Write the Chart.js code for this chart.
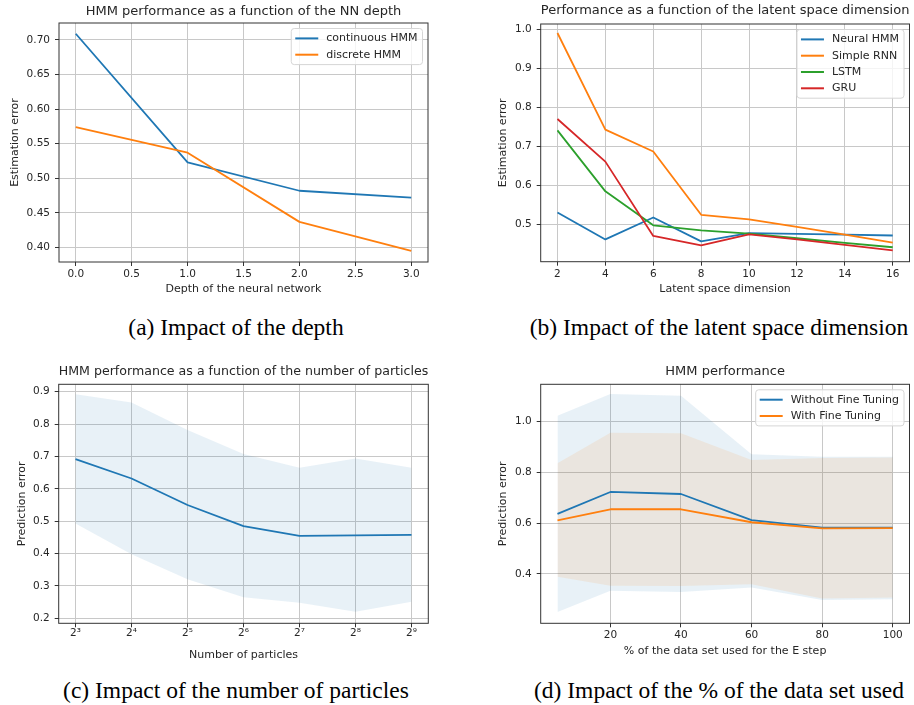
<!DOCTYPE html>
<html>
<head>
<meta charset="utf-8">
<script src="https://cdn.jsdelivr.net/npm/chart.js@4.4.1/dist/chart.umd.min.js"></script>
<style>
  body { margin: 0; background: #fff; width: 914px; height: 705px; position: relative; overflow: hidden; }
  canvas { position: absolute; }
  .caption {
    position: absolute; width: 460px; text-align: center;
    font-family: "Liberation Serif", "Times New Roman", serif;
    font-size: 23.5px; line-height: 28px; color: #000; white-space: nowrap;
  }
</style>
</head>
<body>
<canvas id="chartDepth"></canvas>
<canvas id="chartLatent"></canvas>
<canvas id="chartParticles"></canvas>
<canvas id="chartDataShare"></canvas>
<div class="caption" style="left:6px;top:313px">(a) Impact of the depth</div>
<div class="caption" style="left:489px;top:313px">(b) Impact of the latent space dimension</div>
<div class="caption" style="left:6px;top:676px">(c) Impact of the number of particles</div>
<div class="caption" style="left:489px;top:676px">(d) Impact of the % of the data set used</div>
<script>
// (a) depth of the neural network
const depthValues = [0, 1, 2, 3];
const continuousHmmErr = [0.709, 0.523, 0.482, 0.472];
const discreteHmmErr = [0.574, 0.537, 0.437, 0.395];
const depthTicks = [0, 0.5, 1, 1.5, 2, 2.5, 3];
const depthErrTicks = [0.40, 0.45, 0.50, 0.55, 0.60, 0.65, 0.70];

// (b) latent space dimension
const latentDims = [2, 4, 6, 8, 10, 12, 14, 16];
const neuralHmmErr = [0.531, 0.462, 0.518, 0.457, 0.478, 0.476, 0.474, 0.472];
const simpleRnnErr = [0.990, 0.743, 0.687, 0.525, 0.513, 0.494, 0.474, 0.454];
const lstmErr = [0.741, 0.585, 0.498, 0.485, 0.477, 0.465, 0.453, 0.442];
const gruErr = [0.770, 0.661, 0.471, 0.447, 0.475, 0.462, 0.448, 0.434];
const latentTicks = [2, 4, 6, 8, 10, 12, 14, 16];
const latentErrTicks = [0.5, 0.6, 0.7, 0.8, 0.9, 1.0];

// (c) number of particles
const particleCounts = [8, 16, 32, 64, 128, 256, 512];
const particleTickLabels = ['2³', '2⁴', '2⁵', '2⁶', '2⁷', '2⁸', '2⁹'];
const particleErrMean = [0.692, 0.632, 0.550, 0.485, 0.455, 0.456, 0.458];
const particleErrUpper = [0.892, 0.867, 0.782, 0.708, 0.665, 0.694, 0.665];
const particleErrLower = [0.493, 0.398, 0.321, 0.265, 0.248, 0.220, 0.251];
const particleErrTicks = [0.2, 0.3, 0.4, 0.5, 0.6, 0.7, 0.8, 0.9];

// (d) % of the data set used for the E step
const dataSharePct = [5, 20, 40, 60, 80, 100];
const noFtMean = [0.636, 0.722, 0.714, 0.611, 0.582, 0.582];
const noFtUpper = [1.021, 1.107, 1.100, 0.870, 0.860, 0.860];
const noFtLower = [0.250, 0.334, 0.329, 0.347, 0.298, 0.300];
const ftMean = [0.610, 0.654, 0.654, 0.603, 0.579, 0.580];
const ftUpper = [0.835, 0.955, 0.953, 0.848, 0.855, 0.857];
const ftLower = [0.389, 0.354, 0.353, 0.359, 0.303, 0.307];
const dataShareTicks = [20, 40, 60, 80, 100];
const dataShareErrTicks = [0.4, 0.6, 0.8, 1.0];

const FONT = '"DejaVu Sans", sans-serif';
const TEXT = '#262626';
const BLUE = '#1f77b4';
const ORANGE = '#ff7f0e';
const GREEN = '#2ca02c';
const RED = '#d62728';

/**
 * Plot frame (matplotlib spines)
 */
const framePlugin = {
  id: 'frame',
  afterDatasetsDraw(chart) {
    const { ctx, chartArea: a } = chart;
    ctx.save();
    ctx.strokeStyle = '#333';
    ctx.lineWidth = 1;
    ctx.strokeRect(a.left, a.top, a.right - a.left, a.bottom - a.top);
    ctx.restore();
  }
};

/**
 * Legend box in the upper right corner of the plot
 */
const boxLegendPlugin = {
  id: 'boxLegend',
  afterDraw(chart) {
    const items = chart.data.datasets.filter(d => d.label);
    if (!items.length) return;
    const { ctx, chartArea } = chart;
    const rowH = 16.3;
    ctx.save();
    ctx.font = '11px ' + FONT;
    const textW = Math.max(...items.map(d => ctx.measureText(d.label).width));
    const w = 35 + textW + 5;
    const h = items.length * rowH + 3.5;
    const x = chartArea.right - 5.5 - w;
    const y = chartArea.top + 5.5;
    ctx.fillStyle = 'rgba(255,255,255,0.8)';
    ctx.strokeStyle = '#d6d6d6';
    ctx.lineWidth = 1;
    ctx.beginPath();
    ctx.roundRect(x, y, w, h, 3);
    ctx.fill();
    ctx.stroke();
    items.forEach((d, i) => {
      const cy = y + 1.75 + rowH * i + rowH / 2;
      ctx.strokeStyle = d.borderColor;
      ctx.lineWidth = 2;
      ctx.beginPath();
      ctx.moveTo(x + 4, cy);
      ctx.lineTo(x + 27, cy);
      ctx.stroke();
      ctx.fillStyle = TEXT;
      ctx.textBaseline = 'middle';
      ctx.textAlign = 'left';
      ctx.fillText(d.label, x + 35, cy);
    });
    ctx.restore();
  }
};

function axis(cfg) {
  return {
    type: cfg.type || 'linear',
    min: cfg.min,
    max: cfg.max,
    afterBuildTicks: s => { s.ticks = cfg.ticks.map(v => ({ value: v })); },
    afterFit: s => {
      if (cfg.horizontal) { s.height = cfg.size; s.paddingLeft = 0; s.paddingRight = 0; }
      else { s.width = cfg.size; s.paddingTop = 0; s.paddingBottom = 0; }
    },
    grid: { color: '#c8c8c8', lineWidth: 1, tickColor: '#333', tickLength: 4, drawTicks: true },
    border: { display: false },
    ticks: {
      color: TEXT,
      font: { family: FONT, size: 10.5, lineHeight: 1.2 },
      padding: cfg.tickPad,
      maxRotation: 0,
      autoSkip: false,
      callback: cfg.fmt
    },
    title: {
      display: true,
      text: cfg.title,
      color: TEXT,
      font: { family: FONT, size: 11, lineHeight: 1.2 },
      padding: cfg.titlePad
    }
  };
}

function line(label, data, color, order) {
  return {
    label, data, order,
    borderColor: color,
    backgroundColor: color,
    borderWidth: 1.8,
    borderJoinStyle: 'round',
    pointRadius: 0,
    fill: false,
    tension: 0
  };
}

function band(data, color, order, fillNext) {
  return {
    data, order,
    borderColor: 'transparent',
    backgroundColor: color,
    borderWidth: 0,
    pointRadius: 0,
    fill: fillNext ? '+1' : false,
    tension: 0
  };
}

/**
 * Build one panel: place the canvas so the plot area lands on the given box
 */
function renderPanel(id, box, spec) {
  const canvas = document.getElementById(id);
  const left = Math.floor(box.yTitleX - 10);
  const top = Math.floor(box.titleY - 10);
  const right = Math.ceil(box.R + 3);
  const bottom = Math.ceil(box.xTitleY + 9);
  const w = right - left, h = bottom - top;
  canvas.width = w; canvas.height = h;
  canvas.style.left = left + 'px'; canvas.style.top = top + 'px';
  canvas.style.width = w + 'px'; canvas.style.height = h + 'px';

  const yw = box.L - left;
  const th = box.T - top;
  const xh = bottom - box.B;
  const titleTop = box.titleY - 7.8 - top;

  const x = axis(Object.assign({}, spec.x, {
    horizontal: true, size: xh,
    tickPad: box.xTickY - box.B - 4 - 6.3,
    titlePad: { top: 0, bottom: bottom - 6.6 - box.xTitleY }
  }));
  const y = axis(Object.assign({}, spec.y, {
    horizontal: false, size: yw, tickPad: 5,
    titlePad: { top: box.yTitleX - left - 6.6, bottom: 0 }
  }));

  return new Chart(canvas.getContext('2d'), {
    type: 'line',
    data: { labels: spec.labels, datasets: spec.datasets },
    options: {
      responsive: false,
      animation: false,
      layout: { padding: { left: 0, top: 0, right: right - box.R, bottom: 0 } },
      plugins: {
        legend: { display: false },
        tooltip: { enabled: false },
        filler: { drawTime: 'beforeDatasetsDraw' },
        title: {
          display: true,
          text: spec.title,
          fullSize: false,
          color: TEXT,
          font: { family: FONT, size: 13, weight: 'normal', lineHeight: 1.2 },
          padding: { top: titleTop, bottom: th - 15.6 - titleTop }
        }
      },
      scales: { x, y }
    },
    plugins: [framePlugin, boxLegendPlugin]
  });
}

// (a)
renderPanel('chartDepth',
  { L: 59, T: 23, R: 428, B: 262, titleY: 11.7, yTitleX: 15, xTickY: 274, xTitleY: 289 },
  {
    title: 'HMM performance as a function of the NN depth',
    labels: depthValues,
    datasets: [
      line('continuous HMM', continuousHmmErr, BLUE, 2),
      line('discrete HMM', discreteHmmErr, ORANGE, 1)
    ],
    x: { min: -0.15, max: 3.15, ticks: depthTicks, fmt: v => v.toFixed(1), title: 'Depth of the neural network' },
    y: { min: 0.379, max: 0.7245, ticks: depthErrTicks, fmt: v => v.toFixed(2), title: 'Estimation error' }
  });

// (b)
renderPanel('chartLatent',
  { L: 540.7, T: 24, R: 909.5, B: 261.7, titleY: 11, yTitleX: 503.3, xTickY: 274, xTitleY: 289 },
  {
    title: 'Performance as a function of the latent space dimension',
    labels: latentDims,
    datasets: [
      line('Neural HMM', neuralHmmErr, BLUE, 4),
      line('Simple RNN', simpleRnnErr, ORANGE, 3),
      line('LSTM', lstmErr, GREEN, 2),
      line('GRU', gruErr, RED, 1)
    ],
    x: { min: 1.3, max: 16.7, ticks: latentTicks, fmt: v => String(v), title: 'Latent space dimension' },
    y: { min: 0.405, max: 1.013, ticks: latentErrTicks, fmt: v => v.toFixed(1), title: 'Estimation error' }
  });

// (c)
renderPanel('chartParticles',
  { L: 58.7, T: 384.3, R: 428.3, B: 623.3, titleY: 371.7, yTitleX: 21.7, xTickY: 633, xTitleY: 655 },
  {
    title: 'HMM performance as a function of the number of particles',
    labels: particleCounts,
    datasets: [
      line(undefined, particleErrMean, BLUE, 1),
      band(particleErrUpper, 'rgba(31,119,180,0.1)', 2, true),
      band(particleErrLower, 'rgba(31,119,180,0.1)', 3, false)
    ],
    x: {
      type: 'logarithmic', min: Math.pow(2, 2.7), max: Math.pow(2, 9.3),
      ticks: particleCounts, fmt: (v, i) => particleTickLabels[i], title: 'Number of particles'
    },
    y: { min: 0.1846, max: 0.923, ticks: particleErrTicks, fmt: v => v.toFixed(1), title: 'Prediction error' }
  });

// (d)
renderPanel('chartDataShare',
  { L: 540.7, T: 384.3, R: 909.5, B: 623.3, titleY: 371.7, yTitleX: 503.3, xTickY: 635, xTitleY: 651 },
  {
    title: 'HMM performance',
    labels: dataSharePct,
    datasets: [
      line('Without Fine Tuning', noFtMean, BLUE, 2),
      line('With Fine Tuning', ftMean, ORANGE, 1),
      band(noFtUpper, 'rgba(31,119,180,0.1)', 4, true),
      band(noFtLower, 'rgba(31,119,180,0.1)', 5, false),
      band(ftUpper, 'rgba(255,127,14,0.1)', 3, true),
      band(ftLower, 'rgba(255,127,14,0.1)', 3.5, false)
    ],
    x: { min: 0.25, max: 104.75, ticks: dataShareTicks, fmt: v => String(v), title: '% of the data set used for the E step' },
    y: { min: 0.206, max: 1.145, ticks: dataShareErrTicks, fmt: v => v.toFixed(1), title: 'Prediction error' }
  });
</script>
</body>
</html>
